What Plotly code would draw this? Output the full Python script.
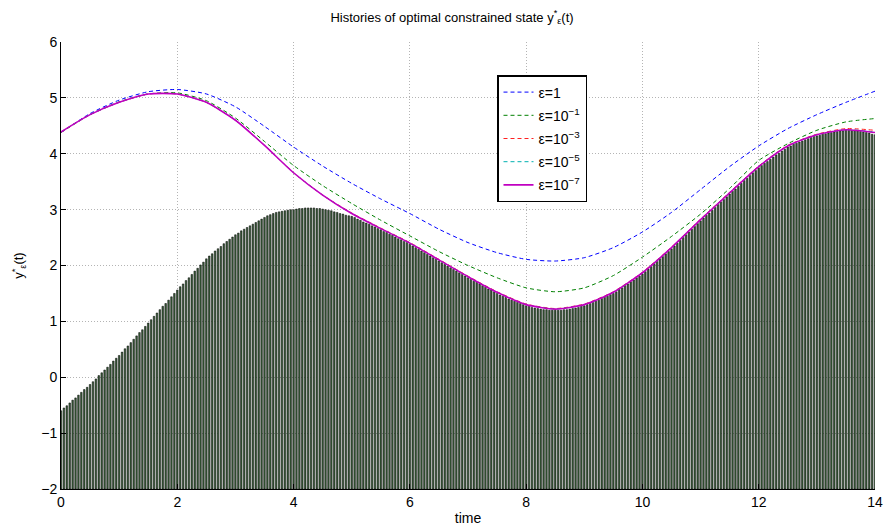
import plotly.graph_objects as go

# ---------------- data ----------------
# constraint (bar tops), step 0.05 from 0 to 14
bar_t_step = 0.05
bar_top = [
 -0.60,-0.55,-0.51,-0.46,-0.41,-0.37,-0.32,-0.27,-0.22,-0.18,
 -0.13,-0.08,-0.03,0.03,0.08,0.13,0.18,0.23,0.29,0.34,
 0.39,0.45,0.51,0.56,0.62,0.68,0.74,0.80,0.85,0.91,
 0.97,1.03,1.09,1.15,1.21,1.27,1.32,1.38,1.44,1.50,
 1.56,1.62,1.67,1.73,1.78,1.84,1.90,1.95,2.01,2.06,
 2.12,2.17,2.21,2.26,2.30,2.34,2.39,2.43,2.47,2.51,
 2.55,2.58,2.62,2.65,2.68,2.71,2.74,2.77,2.80,2.83,
 2.86,2.89,2.91,2.93,2.95,2.96,2.97,2.98,2.99,3.00,
 3.00,3.01,3.02,3.02,3.03,3.03,3.03,3.03,3.02,3.02,
 3.01,3.00,2.99,2.98,2.96,2.95,2.93,2.92,2.90,2.89,
 2.88,2.86,2.83,2.81,2.78,2.76,2.74,2.71,2.69,2.66,
 2.64,2.61,2.59,2.56,2.54,2.51,2.48,2.46,2.43,2.41,
 2.38,2.35,2.32,2.29,2.26,2.23,2.20,2.17,2.14,2.11,
 2.08,2.05,2.02,1.99,1.96,1.93,1.90,1.87,1.84,1.81,
 1.78,1.75,1.72,1.70,1.67,1.64,1.61,1.58,1.56,1.53,
 1.50,1.47,1.45,1.43,1.40,1.38,1.36,1.34,1.32,1.30,
 1.28,1.27,1.25,1.24,1.23,1.22,1.21,1.21,1.20,1.20,
 1.20,1.20,1.20,1.21,1.21,1.22,1.23,1.24,1.25,1.27,
 1.28,1.30,1.32,1.34,1.36,1.38,1.41,1.43,1.45,1.48,
 1.50,1.53,1.57,1.60,1.64,1.67,1.71,1.74,1.78,1.81,
 1.85,1.89,1.94,1.98,2.03,2.07,2.12,2.16,2.21,2.25,
 2.30,2.35,2.40,2.45,2.50,2.55,2.60,2.65,2.70,2.75,
 2.80,2.85,2.90,2.94,2.99,3.04,3.09,3.14,3.18,3.23,
 3.28,3.33,3.37,3.42,3.47,3.52,3.56,3.61,3.66,3.70,
 3.75,3.79,3.83,3.86,3.90,3.94,3.98,4.01,4.05,4.08,
 4.12,4.14,4.17,4.19,4.21,4.23,4.25,4.27,4.29,4.31,
 4.32,4.33,4.35,4.36,4.37,4.38,4.39,4.40,4.41,4.41,
 4.42,4.42,4.42,4.42,4.41,4.40,4.39,4.38,4.37,4.35,
 4.34]
bar_t = [round(i * bar_t_step, 4) for i in range(len(bar_top))]

# state trajectories, sampled every 0.5
t_line = [0,0.5,1,1.5,2,2.5,3,3.5,4,4.5,5,5.5,6,6.5,7,7.5,8,8.5,9,9.5,10,10.5,11,11.5,12,12.5,13,13.5,14]
y_eps1 = [4.38,4.72,4.96,5.11,5.15,5.07,4.84,4.49,4.12,3.78,3.47,3.19,2.93,2.65,2.41,2.23,2.11,2.08,2.14,2.32,2.60,2.95,3.36,3.77,4.14,4.45,4.70,4.92,5.12]
y_eps1e1 = [4.38,4.70,4.93,5.07,5.09,4.95,4.64,4.22,3.79,3.43,3.11,2.81,2.53,2.25,2.00,1.78,1.60,1.53,1.60,1.82,2.15,2.52,2.92,3.38,3.88,4.18,4.42,4.57,4.63]
y_eps1e3 = [4.39,4.70,4.92,5.07,5.07,4.92,4.60,4.15,3.66,3.26,2.94,2.67,2.41,2.11,1.81,1.53,1.31,1.23,1.31,1.53,1.88,2.33,2.83,3.31,3.78,4.15,4.35,4.45,4.42]
y_eps1e5 = [4.39,4.70,4.92,5.07,5.07,4.92,4.60,4.15,3.66,3.26,2.93,2.66,2.40,2.10,1.80,1.52,1.30,1.22,1.30,1.52,1.87,2.32,2.82,3.30,3.77,4.14,4.34,4.43,4.39]
y_eps1e7 = [4.39,4.70,4.92,5.07,5.07,4.92,4.60,4.15,3.66,3.26,2.93,2.66,2.40,2.10,1.80,1.52,1.30,1.22,1.30,1.52,1.87,2.32,2.82,3.30,3.77,4.14,4.34,4.43,4.38]

legend_names = ["ε=1", "ε=10<sup>−1</sup>", "ε=10<sup>−3</sup>", "ε=10<sup>−5</sup>", "ε=10<sup>−7</sup>"]
line_colors = ["#0000ff", "#008000", "#ff2020", "#00b0b0", "#c000c0"]

Y_BASE = -2

fig = go.Figure()
fig.add_trace(go.Bar(
    x=bar_t, y=[v - Y_BASE for v in bar_top], base=Y_BASE,
    marker=dict(color="#3a5e3a", line=dict(color="black", width=0.5)),
    showlegend=False, hoverinfo="skip"))

series = [y_eps1, y_eps1e1, y_eps1e3, y_eps1e5, y_eps1e7]
for i, (name, ys, col) in enumerate(zip(legend_names, series, line_colors)):
    solid = (i == len(series) - 1)
    fig.add_trace(go.Scatter(
        x=t_line, y=ys, mode="lines", name=name, legendgroup=f"g{i}",
        line=dict(color=col, width=1.6 if solid else 1.0,
                  dash="solid" if solid else "4px,3px", shape="spline", smoothing=0.6)))

font = "Liberation Sans, Arial, sans-serif"
grid = dict(showgrid=True, gridcolor="#b4b4b4", griddash="1px,2px", gridwidth=1)
fig.update_layout(
    width=885, height=529,
    margin=dict(l=61, r=10, t=42, b=40, autoexpand=False),
    paper_bgcolor="white", plot_bgcolor="white",
    bargap=0.45,
    font=dict(family=font, size=14, color="black"),
    showlegend=True,
    legend=dict(x=(497 - 61) / 814, y=1 - (75 - 42) / 447, xanchor="left", yanchor="top",
                bgcolor="white", bordercolor="black", borderwidth=1.5,
                font=dict(size=14), tracegroupgap=2, itemwidth=30),
    title=dict(text="Histories of optimal constrained state y<sup>*</sup><sub>ε</sub>(t)",
               x=452 / 885, xanchor="center", y=1 - 17 / 529, yanchor="middle",
               font=dict(size=13)),
    xaxis=dict(range=[0, 14], tickvals=[0, 2, 4, 6, 8, 10, 12, 14], ticks="inside",
               ticklen=5, tickcolor="black", showline=True, linecolor="black", linewidth=1,
               zeroline=False, mirror=False, automargin=False,
               title=dict(text="time", font=dict(size=14), standoff=4), **grid),
    yaxis=dict(range=[-2, 6], tickvals=[-2, -1, 0, 1, 2, 3, 4, 5, 6], ticks="inside",
               ticklen=5, tickcolor="black", showline=True, linecolor="black", linewidth=1,
               zeroline=False, tickformat="d", automargin=False,
               title=dict(text="y<sup>*</sup><sub>ε</sub>(t)", font=dict(size=13), standoff=14), **grid),
)
fig.write_html("out.html")
